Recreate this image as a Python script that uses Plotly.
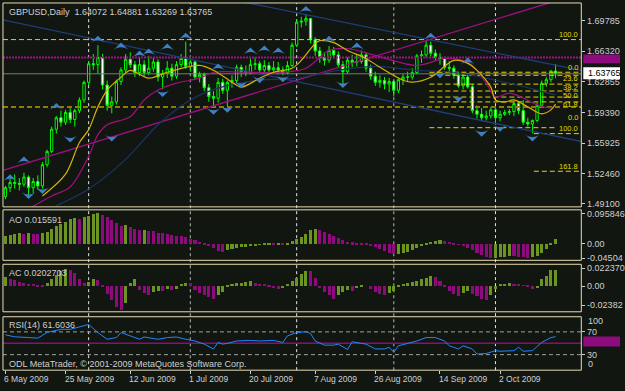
import plotly.graph_objects as go

W, H = 625, 391
def px(x): return x / W
def py(y): return 1 - y / H

# ---------------- data ----------------
bar_index = list(range(120))
opens = [1.4990,1.5090,1.5150,1.5140,1.5130,1.5210,1.5090,1.5160,1.5110,1.5350,
         1.5500,1.5750,1.5880,1.5830,1.5940,1.5860,1.5960,1.6080,1.6280,1.6490,
         1.6480,1.6560,1.6250,1.6020,1.6060,1.6290,1.6420,1.6540,1.6480,1.6390,
         1.6480,1.6390,1.6440,1.6510,1.6340,1.6380,1.6440,1.6350,1.6480,1.6550,
         1.6460,1.6510,1.6340,1.6370,1.6220,1.6120,1.6100,1.6280,1.6190,1.6280,
         1.6300,1.6450,1.6400,1.6390,1.6480,1.6490,1.6420,1.6470,1.6420,1.6445,
         1.6420,1.6390,1.6470,1.6700,1.6960,1.6970,1.7000,1.6760,1.6635,1.6560,
         1.6530,1.6640,1.6590,1.6480,1.6400,1.6530,1.6505,1.6515,1.6590,1.6440,
         1.6350,1.6280,1.6300,1.6260,1.6290,1.6190,1.6310,1.6340,1.6340,1.6390,
         1.6580,1.6590,1.6700,1.6610,1.6560,1.6550,1.6450,1.6440,1.6360,1.6240,
         1.6340,1.6230,1.5960,1.5920,1.5880,1.5900,1.5970,1.5880,1.5920,1.5940,
         1.5950,1.6040,1.5960,1.5830,1.5810,1.5850,1.6020,1.6270,1.6310,1.64072]
highs = [1.5110,1.5190,1.5240,1.5200,1.5260,1.5230,1.5200,1.5230,1.5380,1.5520,
         1.5780,1.5900,1.5960,1.5970,1.5990,1.5980,1.6110,1.6300,1.6520,1.6600,
         1.6700,1.6600,1.6300,1.6120,1.6310,1.6450,1.6600,1.6620,1.6520,1.6560,
         1.6530,1.6580,1.6560,1.6540,1.6420,1.6520,1.6490,1.6520,1.6600,1.6740,
         1.6570,1.6530,1.6400,1.6390,1.6260,1.6180,1.6330,1.6320,1.6300,1.6360,
         1.6480,1.6480,1.6470,1.6550,1.6560,1.6520,1.6530,1.6510,1.6520,1.6510,
         1.6460,1.6520,1.6730,1.6990,1.7020,1.7045,1.7010,1.6790,1.6680,1.6620,
         1.6690,1.6680,1.6630,1.6520,1.6560,1.6590,1.6600,1.6640,1.6620,1.6480,
         1.6400,1.6360,1.6340,1.6330,1.6310,1.6330,1.6370,1.6400,1.6440,1.6600,
         1.6640,1.6750,1.6740,1.6650,1.6610,1.6570,1.6520,1.6470,1.6400,1.6380,
         1.6380,1.6260,1.6020,1.5990,1.5960,1.6000,1.6000,1.5960,1.5970,1.5980,
         1.6070,1.6060,1.6080,1.5880,1.5860,1.6050,1.6300,1.6340,1.6420,1.64881]
lows = [1.4960,1.5040,1.5080,1.5060,1.5100,1.5000,1.5030,1.5070,1.5080,1.5320,
        1.5480,1.5700,1.5780,1.5800,1.5820,1.5780,1.5930,1.6050,1.6250,1.6420,
        1.6380,1.6200,1.5960,1.5930,1.6030,1.6250,1.6390,1.6440,1.6340,1.6350,
        1.6350,1.6360,1.6400,1.6290,1.6200,1.6330,1.6300,1.6320,1.6450,1.6430,
        1.6400,1.6310,1.6280,1.6180,1.6060,1.5990,1.6050,1.6150,1.6010,1.6220,
        1.6270,1.6340,1.6350,1.6370,1.6420,1.6370,1.6390,1.6380,1.6400,1.6370,
        1.6360,1.6370,1.6450,1.6680,1.6900,1.6920,1.6720,1.6580,1.6500,1.6470,
        1.6500,1.6550,1.6440,1.6260,1.6380,1.6450,1.6460,1.6490,1.6400,1.6310,
        1.6240,1.6220,1.6200,1.6170,1.6120,1.6160,1.6250,1.6290,1.6310,1.6370,
        1.6500,1.6560,1.6570,1.6520,1.6480,1.6420,1.6400,1.6320,1.6220,1.6200,
        1.6210,1.5930,1.5870,1.5840,1.5850,1.5870,1.5800,1.5840,1.5900,1.5910,
        1.5900,1.5920,1.5800,1.5780,1.5705,1.5830,1.6000,1.6230,1.6280,1.63269]
closes = [1.5090,1.5150,1.5140,1.5130,1.5210,1.5090,1.5160,1.5110,1.5350,1.5500,
          1.5750,1.5880,1.5830,1.5940,1.5860,1.5960,1.6080,1.6280,1.6490,1.6480,
          1.6560,1.6250,1.6020,1.6060,1.6290,1.6420,1.6540,1.6480,1.6390,1.6480,
          1.6390,1.6440,1.6510,1.6340,1.6380,1.6440,1.6350,1.6480,1.6550,1.6460,
          1.6510,1.6340,1.6370,1.6220,1.6120,1.6100,1.6280,1.6190,1.6280,1.6300,
          1.6450,1.6400,1.6390,1.6480,1.6490,1.6420,1.6470,1.6420,1.6445,1.6420,
          1.6390,1.6470,1.6700,1.6960,1.6970,1.7000,1.6760,1.6635,1.6560,1.6530,
          1.6640,1.6590,1.6480,1.6400,1.6530,1.6505,1.6515,1.6590,1.6440,1.6350,
          1.6280,1.6300,1.6260,1.6290,1.6190,1.6310,1.6340,1.6340,1.6390,1.6580,
          1.6590,1.6700,1.6610,1.6560,1.6550,1.6450,1.6440,1.6360,1.6240,1.6340,
          1.6230,1.5960,1.5920,1.5880,1.5900,1.5970,1.5880,1.5920,1.5940,1.5950,
          1.6040,1.5960,1.5830,1.5810,1.5850,1.6020,1.6270,1.6310,1.6407,1.63765]

ma_fast_idx = [8,13,16,18,20,22,25,27,31,35,42,45,49,51,55,58,62,64,67,68,71,74,78,81,86,88,92,97,100,102,105,106,108,110,113,116,118,119]
ma_fast_val = [1.4997,1.5243,1.5600,1.5746,1.6003,1.6193,1.6338,1.6416,1.6327,1.6394,1.6472,1.6416,1.6282,1.6226,1.6327,1.6394,1.6439,1.6528,1.6718,1.6752,1.6729,1.6640,1.6550,1.6450,1.6304,1.6282,1.6338,1.6528,1.6494,1.6416,1.6226,1.6081,1.6059,1.6081,1.6003,1.5925,1.5969,1.6036]
ma_mid_idx = [5,10,14,18,20,22,27,30,33,37,42,45,52,60,65,70,74,80,89,95,99,101,104,106,109,112,115,118,119]
ma_mid_val = [1.4852,1.4997,1.5098,1.5444,1.5690,1.5801,1.5891,1.6081,1.6193,1.6271,1.6327,1.6394,1.6394,1.6394,1.6439,1.6640,1.6662,1.6584,1.6472,1.6550,1.6528,1.6472,1.6271,1.6114,1.6159,1.6103,1.6025,1.5992,1.6025]
ma_slow_idx = [11,18,26,33,40,46,55,63,72,80,89,97,106,115,119]
ma_slow_val = [1.4885,1.5075,1.5410,1.5801,1.6081,1.6215,1.6304,1.6327,1.6416,1.6461,1.6416,1.6394,1.6304,1.6193,1.6137]

trend_mag_idx = [-0.54, 124.57]
trend_mag_val = [1.5287, 1.7288]
trend_nv1_idx = [-0.54, 124.57]
trend_nv1_val = [1.6986, 1.5612]
trend_nv2_idx = [50.3, 124.57]
trend_nv2_val = [1.7199, 1.6416]

frac_up_idx = [1,4,11,20,25,29,31,35,39,46,53,56,59,65,70,76,92,100]
frac_up_val = [1.5243,1.5444,1.6047,1.6807,1.6729,1.6640,1.6662,1.6718,1.6841,1.6494,1.6673,1.6696,1.6673,1.7143,1.6807,1.6729,1.6841,1.6562]
frac_dn_idx = [5,8,14,23,34,45,48,51,55,60,73,94,98,103,107,114]
frac_dn_val = [1.4963,1.5019,1.5600,1.5611,1.6114,1.5913,1.5936,1.6215,1.6271,1.6282,1.6215,1.6327,1.6059,1.5667,1.5723,1.5611]

ao_values = [0.026,0.028,0.031,0.035,0.033,0.034,0.032,0.031,0.034,0.039,
             0.047,0.056,0.063,0.070,0.078,0.083,0.080,0.086,0.090,0.094,
             0.097,0.092,0.085,0.076,0.066,0.058,0.060,0.055,0.049,0.045,
             0.046,0.042,0.040,0.036,0.035,0.031,0.029,0.027,0.025,0.022,
             0.017,0.013,0.008,0.002,-0.006,-0.013,-0.021,-0.025,-0.020,-0.016,
             -0.013,-0.010,-0.008,-0.006,-0.004,-0.002,0.001,0.003,0.002,0.004,
             0.003,0.005,0.010,0.016,0.024,0.033,0.044,0.047,0.044,0.038,
             0.032,0.025,0.018,0.012,0.008,0.006,0.005,0.003,0.001,-0.003,
             -0.008,-0.015,-0.022,-0.028,-0.032,-0.030,-0.027,-0.024,-0.019,-0.013,
             -0.006,0.002,0.007,0.010,0.012,0.011,0.008,0.004,-0.001,-0.006,
             -0.013,-0.020,-0.028,-0.035,-0.041,-0.045,-0.044,-0.042,-0.040,-0.038,
             -0.039,-0.040,-0.042,-0.043,-0.041,-0.037,-0.028,-0.015,0.004,0.0156]
ac_values = [0.011,0.009,0.007,0.005,0.003,0.002,0.001,-0.001,-0.002,0.003,
             0.008,0.013,0.018,0.021,0.020,0.016,0.009,0.003,0.005,0.008,
             0.007,-0.002,-0.010,-0.018,-0.027,-0.030,-0.021,0.004,0.008,-0.005,
             -0.009,-0.011,-0.008,-0.006,-0.007,-0.004,-0.005,-0.004,0.002,0.004,
             0.003,-0.005,-0.009,-0.012,-0.014,-0.016,-0.012,-0.008,-0.002,0.002,
             0.003,0.004,0.005,0.006,0.004,0.002,0.001,-0.001,-0.003,-0.004,
             -0.003,0.002,0.006,0.010,0.015,0.019,0.018,0.010,-0.003,-0.008,
             -0.012,-0.016,-0.012,-0.008,-0.005,-0.006,-0.003,-0.001,0.000,-0.004,
             -0.008,-0.010,-0.012,-0.009,-0.006,-0.001,0.001,0.003,0.005,0.006,
             0.008,0.010,0.012,0.011,0.006,-0.002,-0.006,-0.010,-0.013,-0.009,
             -0.007,-0.010,-0.013,-0.016,-0.018,-0.012,-0.004,0.001,0.002,0.003,
             0.002,0.001,0.0005,-0.002,-0.004,-0.003,0.008,0.012,0.0195,0.0203]

rsi_idx = [0,2,5,7,9,12,14,16,17,18,20,22,24,25,27,29,30,33,35,37,39,41,43,45,46,47,48,50,53,55,
           58,60,61,63,65,66,67,69,71,72,74,75,77,78,80,82,83,84,85,88,89,91,93,95,96,98,99,101,102,104,
           106,107,110,111,112,114,116,118,119]
rsi_val = [64.8,61.3,60,59,69,74.5,74.5,78.7,80.4,83,68.8,57,60,68.8,63,57,61,57,60,61,57,54,48.5,40,51.4,48.5,49.8,54,55,54,
           55,51.4,63,68.8,70.4,67,54,46.7,46.7,48.5,39,52.6,49.8,48.5,40,40,43,34,45.6,51.4,54,60,60,54,45.6,40,45.6,40,31,32,
           37,36,37,43,36,37,51.4,60,61.6]

price_ticks = [1.69785, 1.66320, 1.62855, 1.59390, 1.55925, 1.52460, 1.49100]
date_labels = ["6 May 2009","25 May 2009","12 Jun 2009","1 Jul 2009","20 Jul 2009",
               "7 Aug 2009","26 Aug 2009","14 Sep 2009","2 Oct 2009"]
date_label_idx = [0,13,27,40,53,67,80,94,107]
month_sep_idx = [18,40,63,84,106]
month_sep_col = ['#e8e8e8','#9a9a9a','#e8e8e8','#9a9a9a','#e8e8e8']

fib_full_val = 1.6763
olive_level = 1.6003
magenta_level = 1.6562
last_price = 1.63765
fib_a_start = 91.7
fib_a_vals = [1.6394,1.6360,1.6260,1.6182,1.6114,1.6059]
fib_a_end2_vals = [1.5768]
fib_b_start = 114.3
fib_b_vals = [1.5701,1.5276]
fib_texts = ["100.0","0.0","23.6","38.2","50.0","61.8","100.0","0.0","161.8"]
fib_text_vals = [1.6819,1.6452,1.6318,1.6222,1.6127,1.6032,1.5760,1.5880,1.5332]

# ---------------- layout constants ----------------
XMIN, XMAX = -0.536, 124.57
X_DOM = [px(3), px(586)]
MAIN_DOM = [py(208), py(2)]
AO_DOM = [py(262), py(211)]
AC_DOM = [py(314), py(266)]
RSI_DOM = [py(373), py(319)]
BG = '#111611'
TXT = '#cfcfcf'
FONT = 'Liberation Sans, Arial, sans-serif'
GREEN_BAR = '#6b9420'
MAG_BAR = '#8e0b7d'

fig = go.Figure()

fig.add_trace(go.Candlestick(
    x=bar_index, open=opens, high=highs, low=lows, close=closes,
    increasing=dict(line=dict(color='#00ff00', width=1), fillcolor='#000000'),
    decreasing=dict(line=dict(color='#00ff00', width=1), fillcolor='#ffffff'),
    whiskerwidth=0, xaxis='x', yaxis='y', showlegend=False, hoverinfo='skip'))

def hline(x0, x1, y, color, dash, width=1, axis=('x', 'y')):
    fig.add_trace(go.Scatter(x=[x0, x1], y=[y, y], mode='lines', xaxis=axis[0], yaxis=axis[1],
                             line=dict(color=color, width=width, dash=dash),
                             showlegend=False, hoverinfo='skip'))

hline(XMIN, XMAX, last_price, '#7a7a7a', 'solid')
hline(XMIN, XMAX, magenta_level, '#a0108a', '2px,1px', 2)
hline(XMIN, XMAX, fib_full_val, '#e6d600', '5px,3px')
hline(XMIN, XMAX, olive_level, '#8c7c00', '5px,3px', 2)
for v in fib_a_vals:
    hline(fib_a_start, XMAX, v, '#e6d600', '5px,3px')
for v in fib_a_end2_vals:
    hline(fib_a_start, 119, v, '#e6d600', '5px,3px')
for v in fib_b_vals:
    hline(fib_b_start, XMAX, v, '#e6d600', '5px,3px')

for xi, yv, col in [(trend_mag_idx, trend_mag_val, '#a0107e'),
                    (trend_nv1_idx, trend_nv1_val, '#1f3d78'),
                    (trend_nv2_idx, trend_nv2_val, '#1f3d78')]:
    fig.add_trace(go.Scatter(x=xi, y=yv, mode='lines', line=dict(color=col, width=1.3),
                             showlegend=False, hoverinfo='skip'))

for xi, yv, col in [(ma_slow_idx, ma_slow_val, '#1c3464'),
                    (ma_mid_idx, ma_mid_val, '#a0107e'),
                    (ma_fast_idx, ma_fast_val, '#d2b400')]:
    fig.add_trace(go.Scatter(x=xi, y=yv, mode='lines',
                             line=dict(color=col, width=1.2, shape='spline', smoothing=0.9),
                             showlegend=False, hoverinfo='skip'))

fig.add_trace(go.Scatter(x=frac_up_idx, y=frac_up_val, mode='markers',
                         marker=dict(symbol='arrow-wide', angle=0, size=11, color='#3f7fc4'),
                         showlegend=False, hoverinfo='skip'))
fig.add_trace(go.Scatter(x=frac_dn_idx, y=frac_dn_val, mode='markers',
                         marker=dict(symbol='arrow-wide', angle=180, size=11, color='#3f7fc4'),
                         showlegend=False, hoverinfo='skip'))

def hist_colors(vals):
    out = []
    for k, v in enumerate(vals):
        out.append(GREEN_BAR if k == 0 or v >= vals[k - 1] else MAG_BAR)
    return out

fig.add_trace(go.Bar(x=bar_index, y=ao_values, marker=dict(color=hist_colors(ao_values), line=dict(width=0)),
                     width=0.66, xaxis='x2', yaxis='y2', showlegend=False, hoverinfo='skip'))
fig.add_trace(go.Bar(x=bar_index, y=ac_values, marker=dict(color=hist_colors(ac_values), line=dict(width=0)),
                     width=0.66, xaxis='x3', yaxis='y3', showlegend=False, hoverinfo='skip'))

hline(XMIN, XMAX, 70, '#a0a0a0', '4px,3px', 1, ('x4', 'y4'))
hline(XMIN, XMAX, 30, '#a0a0a0', '4px,3px', 1, ('x4', 'y4'))
hline(XMIN, XMAX, 50, '#8e0b7d', 'solid', 1.3, ('x4', 'y4'))
fig.add_trace(go.Scatter(x=rsi_idx, y=rsi_val, mode='lines', xaxis='x4', yaxis='y4',
                         line=dict(color='#1e88ff', width=1), showlegend=False, hoverinfo='skip'))

def xax(anchor, **kw):
    d = dict(range=[XMIN, XMAX], domain=X_DOM, anchor=anchor, showgrid=False, zeroline=False,
             showticklabels=False, showline=False, fixedrange=True)
    d.update(kw)
    return d

def yax(anchor, dom, rng, tv, tt):
    return dict(domain=dom, range=rng, anchor=anchor, side='right', showgrid=False, zeroline=False,
                tickvals=tv, ticktext=tt, ticks='outside', ticklen=3, tickcolor=TXT,
                tickfont=dict(size=9, color=TXT, family=FONT), showline=False, fixedrange=True)

shapes = []
for i, c in zip(month_sep_idx, month_sep_col):
    shapes.append(dict(type='line', xref='x', yref='paper', x0=i, x1=i, y0=RSI_DOM[0], y1=MAIN_DOM[1],
                       line=dict(color=c, width=1.2 if c == '#9a9a9a' else 1, dash='3px,3px'), layer='below'))
for dom in (MAIN_DOM, AO_DOM, AC_DOM, RSI_DOM):
    shapes.append(dict(type='rect', xref='paper', yref='paper', x0=X_DOM[0], x1=X_DOM[1],
                       y0=dom[0], y1=dom[1], line=dict(color='#e9dcb2', width=1)))
shapes.append(dict(type='rect', xref='paper', yref='paper', x0=px(588), x1=1, y0=py(63), y1=py(54),
                   fillcolor='#8e0b7d', line=dict(width=0), layer='below'))
shapes.append(dict(type='rect', xref='paper', yref='paper', x0=px(588), x1=1, y0=py(79), y1=py(67),
                   fillcolor='#ffffff', line=dict(width=0)))
shapes.append(dict(type='rect', xref='paper', yref='paper', x0=px(588), x1=1, y0=py(349), y1=py(339),
                   fillcolor='#8e0b7d', line=dict(width=0)))

ann = []
def text(x, y, s, color=TXT, size=9, xanchor='left'):
    ann.append(dict(x=px(x), y=py(y), xref='paper', yref='paper', text=s, showarrow=False,
                    xanchor=xanchor, yanchor='middle', font=dict(size=size, color=color, family=FONT)))

text(7, 11, 'GBPUSD,Daily\u00a0\u00a01.64072 1.64881 1.63269 1.63765')
text(7, 221, 'AO 0.015591')
text(7, 275, 'AC 0.0202703')
text(7, 327, 'RSI(14) 61.6036')
text(7, 367, 'ODL MetaTrader, \u00a9 2001-2009 MetaQuotes Software Corp.')
text(591, 73, '1.63765', color='#000000')
text(591, 323, '100')
text(591, 367, '0')

for s, v in zip(fib_texts, fib_text_vals):
    ann.append(dict(x=XMAX, y=v, xref='x', yref='y', text=s, showarrow=False, xanchor='right',
                    yanchor='middle', xshift=-1, font=dict(size=7.5, color='#e6d600', family=FONT)))

for s, i in zip(date_labels, date_label_idx):
    ann.append(dict(x=i, y=py(382), xref='x4', yref='paper', text=s, showarrow=False, xanchor='left',
                    yanchor='middle', xshift=-3, font=dict(size=8.5, color=TXT, family=FONT)))

fig.update_layout(
    width=W, height=H, margin=dict(l=0, r=0, t=0, b=0),
    paper_bgcolor=BG, plot_bgcolor=BG, showlegend=False, bargap=0,
    xaxis=xax('y', rangeslider=dict(visible=False)),
    xaxis2=xax('y2'), xaxis3=xax('y3'),
    xaxis4=xax('y4', ticks='outside', tickvals=date_label_idx, ticklen=3, tickcolor=TXT),
    yaxis=yax('x', MAIN_DOM, [1.48738, 1.71763], price_ticks, ['%.5f' % v for v in price_ticks]),
    yaxis2=yax('x2', AO_DOM, [-0.052, 0.108], [0.095846, 0, -0.04504], ['0.095846', '0.00', '-0.04504']),
    yaxis3=yax('x3', AC_DOM, [-0.0323, 0.0273], [0.02237, 0, -0.02382], ['0.022370', '0.00', '-0.02382']),
    yaxis4=yax('x4', RSI_DOM, [2.7, 96.6], [70, 30], ['70', '30']),
    shapes=shapes, annotations=ann,
)

fig.write_html("out.html")
